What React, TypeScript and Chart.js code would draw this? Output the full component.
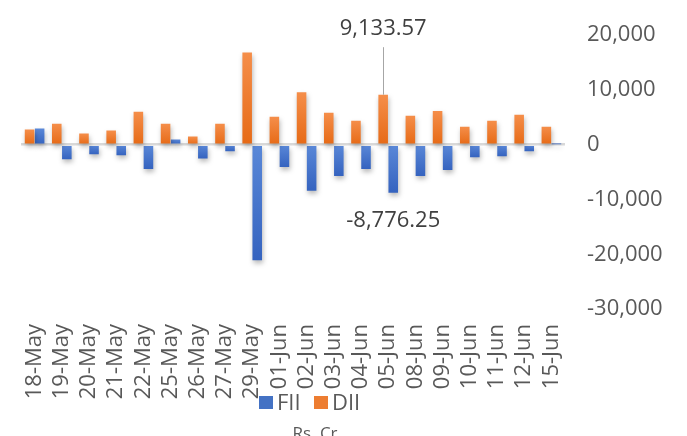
import React, { useEffect, useRef } from "react";
import { Chart, registerables } from "chart.js";

Chart.register(...registerables);

const categories = [
  "18-May", "19-May", "20-May", "21-May", "22-May", "25-May", "26-May", "27-May", "29-May",
  "01-Jun", "02-Jun", "03-Jun", "04-Jun", "05-Jun", "08-Jun", "09-Jun", "10-Jun", "11-Jun", "12-Jun", "15-Jun",
];
const fiiValues = [
  2940, -2640, -1740, -1920, -4440, 950, -2500, -1200, -21100,
  -4080, -8400, -5700, -4440, -8776.25, -5700, -4620, -2280, -2100, -1200, 80,
];
const diiValues = [
  2760, 3840, 2040, 2580, 6000, 3840, 1500, 3840, 16850,
  5100, 9600, 5820, 4380, 9133.57, 5280, 6180, 3300, 4380, 5460, 3300,
];
const yMin = -30000;
const yMax = 20000;
const yStep = 10000;
const annotatedIndex = 13;
const unitLabel = "Rs. Cr";

const FONT = "'Open Sans', 'Noto Sans', sans-serif";
const TEXT = "#595959";

function barGradient(light: string, dark: string) {
  return (ctx: any) => {
    const chart = ctx.chart;
    const ys = chart.scales && chart.scales.y;
    if (!ys || ctx.type !== "data" || !chart.chartArea) return dark;
    const v = ctx.parsed ? ctx.parsed.y : ctx.raw;
    const p0 = ys.getPixelForValue(0);
    const p1 = ys.getPixelForValue(v);
    if (!isFinite(p0) || !isFinite(p1) || Math.abs(p0 - p1) < 0.5) return dark;
    const g = chart.ctx.createLinearGradient(0, Math.min(p0, p1), 0, Math.max(p0, p1));
    g.addColorStop(0, light);
    g.addColorStop(1, dark);
    return g;
  };
}

const shadowPlugin = {
  id: "barShadow",
  beforeDatasetsDraw(chart: any) {
    const c = chart.ctx;
    c.save();
    c.shadowColor = "rgba(0,0,0,0.28)";
    c.shadowBlur = 5;
    c.shadowOffsetX = 1;
    c.shadowOffsetY = 3;
  },
  afterDatasetsDraw(chart: any) {
    chart.ctx.restore();
  },
};

const fmt2 = (v: number) =>
  v.toLocaleString("en-US", { minimumFractionDigits: 2, maximumFractionDigits: 2 });

const overlayPlugin = {
  id: "overlay",
  afterDraw(chart: any) {
    const c = chart.ctx;
    const area = chart.chartArea;
    const diiEl = chart.getDatasetMeta(0).data[annotatedIndex];
    const fiiEl = chart.getDatasetMeta(1).data[annotatedIndex];
    c.save();
    // leader line + top label
    c.strokeStyle = "#a6a6a6";
    c.lineWidth = 1;
    c.beginPath();
    c.moveTo(Math.round(diiEl.x) + 0.5, area.top + 12);
    c.lineTo(Math.round(diiEl.x) + 0.5, diiEl.y);
    c.stroke();
    c.fillStyle = "#404040";
    c.font = `22px ${FONT}`;
    c.textAlign = "center";
    c.textBaseline = "middle";
    c.fillText(fmt2(diiValues[annotatedIndex]), diiEl.x, area.top - 6);
    c.fillText(fmt2(fiiValues[annotatedIndex]), fiiEl.x, fiiEl.y + 28);

    // legend
    const cx = (area.left + area.right) / 2 + 15;
    const ly = area.bottom + 94;
    const items = [
      { label: "FII", color: "#4472c4" },
      { label: "DII", color: "#ed7d31" },
    ];
    c.font = `22px ${FONT}`;
    c.textAlign = "left";
    c.textBaseline = "middle";
    let x = cx - 49;
    items.forEach((it) => {
      c.fillStyle = it.color;
      c.fillRect(x, ly - 7, 14, 13);
      c.fillStyle = TEXT;
      c.fillText(it.label, x + 18, ly + 1);
      x += 55;
    });

    // unit label
    c.font = `17px ${FONT}`;
    c.textAlign = "center";
    c.textBaseline = "alphabetic";
    c.fillStyle = TEXT;
    c.fillText(unitLabel, cx + 7, chart.height + 3);
    c.restore();
  },
};

export default function App() {
  const ref = useRef<HTMLCanvasElement>(null);
  useEffect(() => {
    if (!ref.current) return;
    const chart = new Chart(ref.current, {
      type: "bar",
      data: {
        labels: categories,
        datasets: [
          {
            label: "DII",
            data: diiValues,
            backgroundColor: barGradient("#f58e4a", "#e66a16"),
            borderWidth: 0,
            categoryPercentage: 0.74,
            barPercentage: 0.95,
          },
          {
            label: "FII",
            data: fiiValues,
            backgroundColor: barGradient("#5a88d8", "#3563bf"),
            borderWidth: 0,
            categoryPercentage: 0.74,
            barPercentage: 0.95,
          },
        ],
      },
      options: {
        animation: false,
        responsive: false,
        devicePixelRatio: 1,
        layout: { padding: { top: 30, left: 21, right: 0, bottom: 0 } },
        plugins: {
          legend: { display: false },
          tooltip: { enabled: false },
        },
        scales: {
          x: {
            grid: { display: false, drawTicks: false },
            border: { display: false },
            ticks: {
              minRotation: 90,
              maxRotation: 90,
              autoSkip: false,
              padding: 15,
              color: TEXT,
              font: { family: FONT, size: 22 },
            },
            afterFit: (axis: any) => {
              axis.height = 127;
            },
          },
          y: {
            position: "right",
            min: yMin,
            max: yMax,
            grid: {
              drawTicks: false,
              color: (ctx: any) => (ctx.tick && ctx.tick.value === 0 ? "#d9d9d9" : "rgba(0,0,0,0)"),
              lineWidth: (ctx: any) => (ctx.tick && ctx.tick.value === 0 ? 2.5 : 0),
            },
            border: { display: false },
            ticks: {
              stepSize: yStep,
              padding: 22,
              color: TEXT,
              font: { family: FONT, size: 22 },
              callback: (v: any) => Number(v).toLocaleString("en-US"),
            },
            afterFit: (axis: any) => {
              axis.width = 122;
            },
          },
        },
      },
      plugins: [shadowPlugin, overlayPlugin],
    });
    return () => chart.destroy();
  }, []);
  return (
    <div style={{ position: "fixed", left: 0, top: 0, width: 687, height: 436, background: "#fff" }}>
      <canvas ref={ref} width={687} height={436} style={{ width: 687, height: 436, display: "block" }} />
    </div>
  );
}
